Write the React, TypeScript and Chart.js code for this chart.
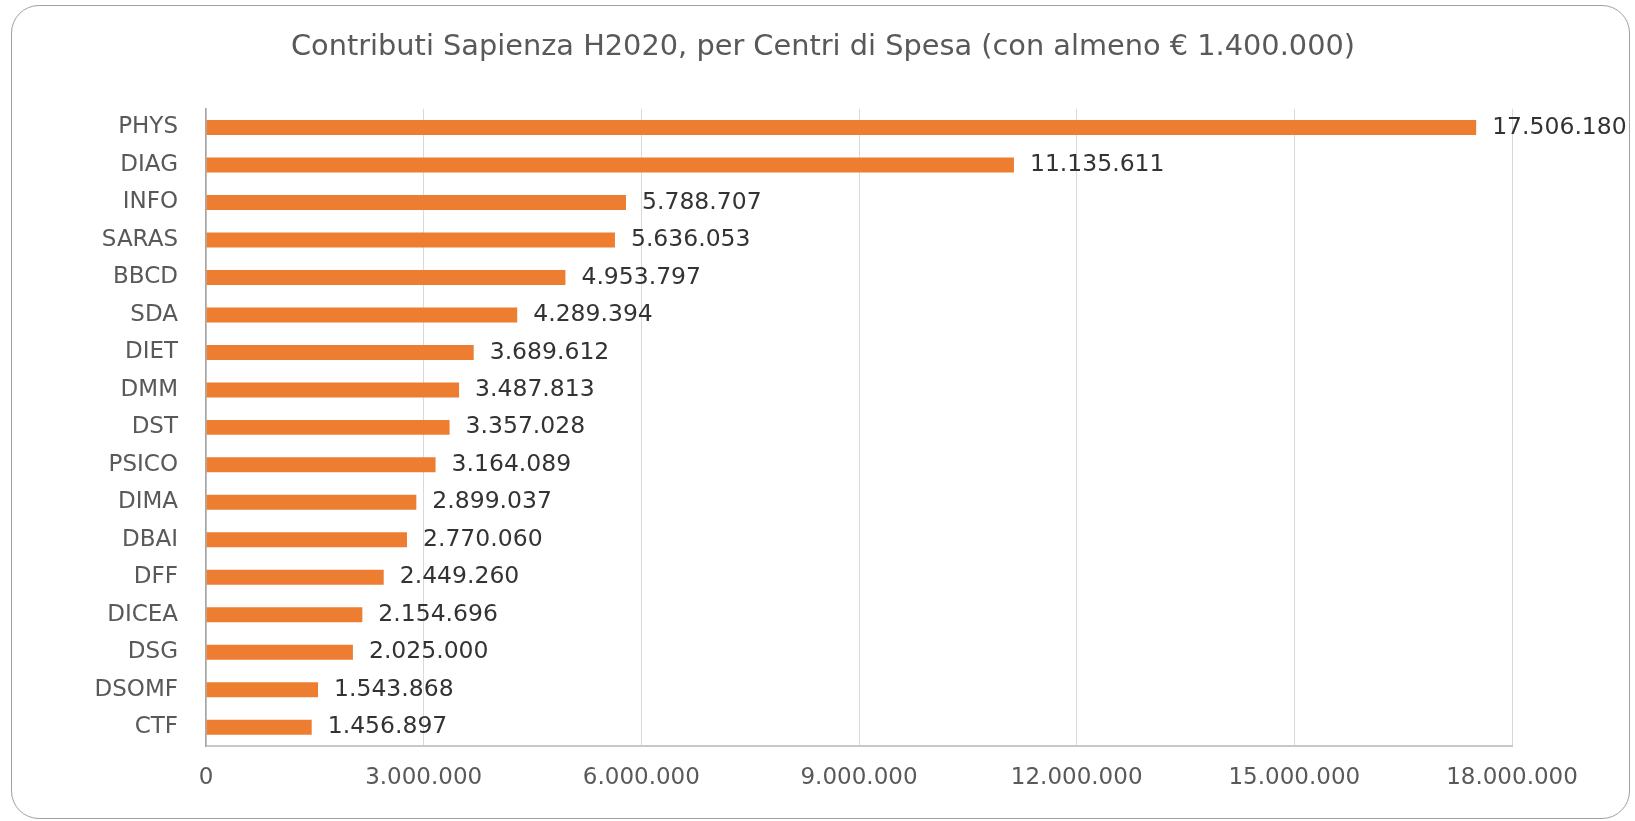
import React, { useEffect, useRef } from "react";
import { Chart, registerables } from "chart.js";

Chart.register(...registerables);

const TITLE = "Contributi Sapienza H2020, per Centri di Spesa (con almeno € 1.400.000)";
const categories = [
  "PHYS", "DIAG", "INFO", "SARAS", "BBCD", "SDA", "DIET", "DMM", "DST",
  "PSICO", "DIMA", "DBAI", "DFF", "DICEA", "DSG", "DSOMF", "CTF",
];
const values = [
  17506180, 11135611, 5788707, 5636053, 4953797, 4289394, 3689612, 3487813, 3357028,
  3164089, 2899037, 2770060, 2449260, 2154696, 2025000, 1543868, 1456897,
];
const xTickValues = [0, 3000000, 6000000, 9000000, 12000000, 15000000, 18000000];

const fmt = (n: number) => String(Math.round(n)).replace(/\B(?=(\d{3})+(?!\d))/g, ".");

const FONT = "'DejaVu Sans', sans-serif";

export default function App() {
  const ref = useRef<HTMLCanvasElement | null>(null);

  useEffect(() => {
    document.body.style.margin = "0";
    const canvas = ref.current;
    if (!canvas) return;

    const titlePlugin = {
      id: "titleDraw",
      afterDraw(chart: any) {
        const ctx = chart.ctx;
        ctx.save();
        ctx.font = `28.8px ${FONT}`;
        ctx.fillStyle = "#595959";
        ctx.textAlign = "center";
        ctx.textBaseline = "alphabetic";
        ctx.fillText(TITLE, 823, 55);
        ctx.restore();
      },
    };

    const labelPlugin = {
      id: "barValues",
      afterDatasetsDraw(chart: any) {
        const ctx = chart.ctx;
        const meta = chart.getDatasetMeta(0);
        ctx.save();
        ctx.font = `23.5px ${FONT}`;
        ctx.fillStyle = "#333333";
        ctx.textAlign = "left";
        ctx.textBaseline = "middle";
        meta.data.forEach((el: any, i: number) => {
          ctx.fillText(fmt(values[i]), el.x + 16, el.y);
        });
        ctx.restore();
      },
    };

    const chart = new Chart(canvas, {
      type: "bar",
      data: {
        labels: categories,
        datasets: [
          {
            data: values,
            backgroundColor: "#ED7D31",
            borderWidth: 0,
            barPercentage: 0.4,
            categoryPercentage: 1,
          },
        ],
      },
      options: {
        indexAxis: "y",
        responsive: false,
        animation: false,
        layout: { padding: { top: 108.75, right: 123, bottom: 0, left: 0 } },
        plugins: {
          legend: { display: false },
          title: { display: false },
          tooltip: { enabled: false },
        },
        scales: {
          x: {
            min: xTickValues[0],
            max: xTickValues[xTickValues.length - 1],
            afterBuildTicks: (scale: any) => {
              scale.ticks = xTickValues.map((v) => ({ value: v }));
            },
            afterFit: (scale: any) => {
              scale.height = 75;
            },
            ticks: {
              callback: (v: any) => fmt(Number(v)),
              font: { family: FONT, size: 23 },
              color: "#595959",
              padding: 18,
              maxRotation: 0,
            },
            grid: { color: "#d9d9d9", lineWidth: 1, drawTicks: false },
            border: { color: "#c8c8c8", width: 2 },
          },
          y: {
            afterFit: (scale: any) => {
              scale.width = 206;
            },
            ticks: {
              font: { family: FONT, size: 23 },
              color: "#595959",
              padding: 28,
            },
            grid: { display: false, drawTicks: false },
            border: { color: "#a6a6a6", width: 1.5 },
          },
        },
      },
      plugins: [titlePlugin, labelPlugin],
    });

    return () => chart.destroy();
  }, []);

  return (
    <div style={{ position: "relative", width: 1635, height: 821, background: "#fff" }}>
      <div
        style={{
          position: "absolute",
          left: 11,
          top: 5,
          width: 1619,
          height: 814,
          border: "1.5px solid #a0a0a0",
          borderRadius: 28,
          boxSizing: "border-box",
        }}
      />
      <canvas
        ref={ref}
        width={1635}
        height={821}
        style={{ position: "absolute", left: 0, top: 0, width: 1635, height: 821 }}
      />
    </div>
  );
}
